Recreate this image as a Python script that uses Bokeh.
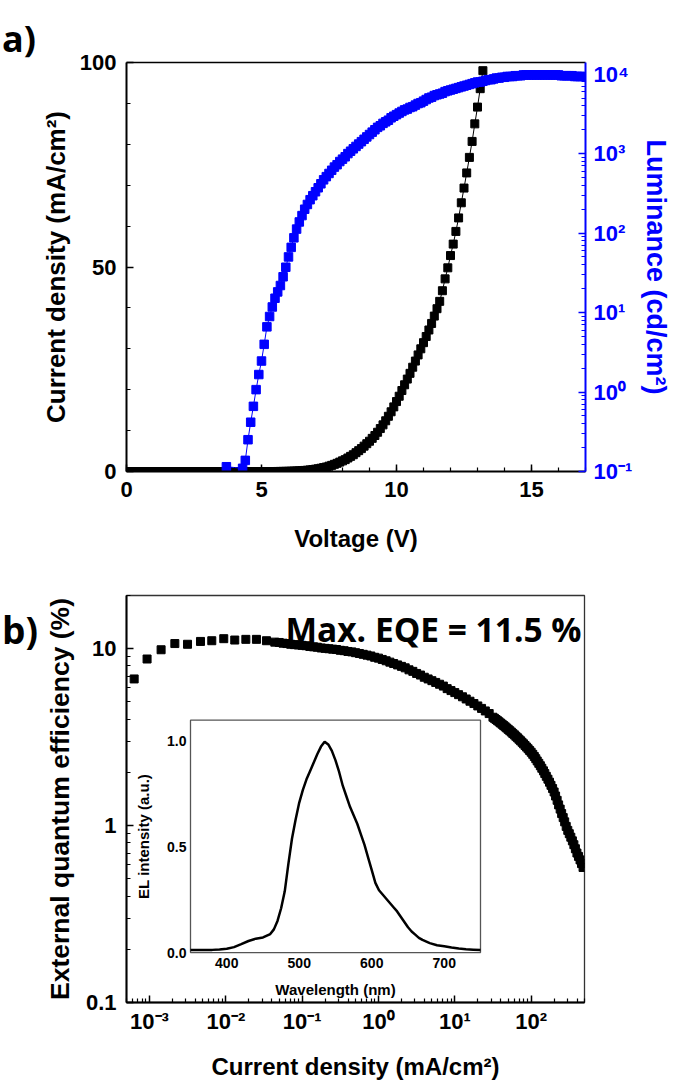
import numpy as np
from bokeh.plotting import figure
from bokeh.layouts import column, row
from bokeh.models import (Range1d, LogScale, LinearScale, LogAxis, LinearAxis,
                          FixedTicker, CustomJSTickFormatter, Label, Div)
from bokeh.core.properties import value
from bokeh.embed import file_html
from bokeh.resources import INLINE

AX_FONT = "Liberation Sans"
BIG_FONT = "Open Sans"
BLUE = "#0000ff"

# ---------------- panel a) data ----------------
# voltage sweep, 0.1 V steps (as read from the marker spacing)
voltage = np.round(np.arange(0.0, 13.25, 0.1), 1)
current_density = [
    0, 0, 0, 0, 0, 0, 0, 0, 0, 0,
    0, 0, 0, 0, 0, 0, 0, 0, 0, 0,
    0, 0, 0, 0, 0, 0, 0, 0, 0, 0,
    0, 0, 0, 0, 0, 0, 0, 0, 0, 0,
    0, 0, 0, 0, 0, 0, 0, 0, 0, 0,
    0, 0, 0, 0, 0, 0, 0.01, 0.02, 0.03, 0.04,
    0.06, 0.08, 0.10, 0.13, 0.17, 0.21, 0.26, 0.32, 0.39, 0.47,
    0.57, 0.68, 0.80, 0.95, 1.10, 1.30, 1.50, 1.75, 2.00, 2.30,
    2.6, 2.9, 3.3, 3.7, 4.1, 4.6, 5.1, 5.6, 6.2, 6.8,
    7.4, 8.1, 8.8, 9.6, 10.5, 11.4, 12.4, 13.5, 14.6, 15.8,
    17.1, 18.4, 19.8, 21.2, 22.6, 24.0, 25.5, 27.0, 28.5, 30.0,
    31.5, 33.0, 34.6, 36.2, 38.0, 39.8, 41.6, 44.2, 47.1, 49.8,
    52.8, 55.6, 58.7, 62.0, 65.7, 69.3, 73.0, 76.8, 80.7, 85.0,
    89.1, 93.6, 98.0,
]

lum_voltage = np.concatenate([[3.7], np.round(np.arange(4.3, 16.95, 0.1), 1)])
# log10 of luminance
lum_log10 = [
    -0.94,
    -0.96, -0.86, -0.60, -0.38, -0.18, 0.03, 0.22, 0.39, 0.60, 0.82,
    0.95, 1.07, 1.18, 1.26, 1.34, 1.45, 1.57, 1.70, 1.82, 1.94,
    2.05, 2.14, 2.22, 2.30, 2.36, 2.42, 2.47, 2.52, 2.57, 2.62,
    2.67, 2.71, 2.75, 2.79, 2.83, 2.86, 2.90, 2.93, 2.96, 3.00,
    3.03, 3.06, 3.09, 3.12, 3.15, 3.18, 3.21, 3.24, 3.27, 3.30,
    3.33, 3.35, 3.38, 3.40, 3.42, 3.45, 3.47, 3.49, 3.51, 3.53,
    3.55, 3.56, 3.58, 3.59, 3.61, 3.63, 3.64, 3.66, 3.68, 3.70,
    3.71, 3.73, 3.74, 3.75, 3.76, 3.78, 3.79, 3.80, 3.81, 3.82,
    3.83, 3.84, 3.85, 3.86, 3.87, 3.88, 3.89, 3.90, 3.90, 3.91,
    3.92, 3.93, 3.93, 3.94, 3.95, 3.95, 3.96, 3.96, 3.97, 3.97,
    3.97, 3.98, 3.98, 3.98, 3.99, 3.99, 3.99, 3.99, 3.99, 3.99,
    3.99, 3.99, 3.99, 3.99, 3.99, 3.99, 3.99, 3.99, 3.98, 3.98,
    3.98, 3.98, 3.98, 3.97, 3.97, 3.97, 3.97,
]
luminance = 10 ** np.array(lum_log10)

v_ticks = [0, 5, 10, 15]
v_minor = list(range(0, 18))
j_ticks = [0, 50, 100]
j_minor = [10, 20, 30, 40, 60, 70, 80, 90]
lum_ticks = [0.1, 1, 10, 100, 1000, 10000]
lum_minor = [m * d for d in [0.1, 1, 10, 100, 1000] for m in range(2, 10)]

# ---------------- panel b) data ----------------
eqe_j = [
    6.3e-4, 9.3e-4, 1.42e-3, 2.15e-3, 3.15e-3, 4.66e-3, 6.55e-3, 9.4e-3,
    0.0131, 0.0183, 0.0252, 0.0341, 0.0438,
    0.0501, 0.0562, 0.0631, 0.0708, 0.0794, 0.0891, 0.100, 0.112, 0.126, 0.141,
    0.158, 0.178, 0.200, 0.224, 0.251, 0.282, 0.316, 0.355, 0.398, 0.447,
    0.501, 0.562, 0.631, 0.708, 0.794, 0.891, 1.00, 1.12, 1.26, 1.41,
    1.58, 1.78, 2.00, 2.24, 2.51, 2.82, 3.16, 3.55, 3.98, 4.47,
    5.01, 5.62, 6.31, 7.08, 7.94, 8.91, 10.0, 11.2, 12.6, 14.1,
    15.8, 17.8, 20.0, 22.4, 25.1, 28.2,
    31.6, 33.1, 34.7, 36.3, 38.0, 39.8, 41.7, 43.7, 45.7, 47.9,
    50.1, 52.5, 55.0, 57.5, 60.3, 63.1, 66.1, 69.2, 72.4, 75.9,
    79.4, 83.2, 87.1, 91.2, 95.5, 100, 105, 110, 115, 120,
    126, 132, 138, 145, 151, 158, 166, 174, 182, 191,
    200, 209, 219, 229, 240, 251, 263, 275, 288, 302,
    316, 331, 347, 363, 380, 398, 417, 437, 457, 479,
]
eqe_pct = [
    6.75, 8.75, 9.87, 10.7, 10.6, 11.0, 11.1, 11.4,
    11.2, 11.3, 11.3, 11.1, 10.9,
    10.85, 10.75, 10.7, 10.6, 10.55, 10.5, 10.45, 10.4, 10.3, 10.25,
    10.2, 10.1, 10.05, 10.0, 9.95, 9.9, 9.8, 9.75, 9.65, 9.6,
    9.5, 9.4, 9.3, 9.2, 9.1, 8.95, 8.85, 8.7, 8.55, 8.4,
    8.25, 8.1, 7.95, 7.8, 7.6, 7.45, 7.25, 7.1, 6.9, 6.75,
    6.6, 6.45, 6.3, 6.15, 5.95, 5.8, 5.65, 5.5, 5.35, 5.2,
    5.05, 4.9, 4.75, 4.6, 4.45, 4.3,
    4.10, 4.04, 3.98, 3.92, 3.86, 3.80, 3.74, 3.68, 3.62, 3.56,
    3.50, 3.44, 3.38, 3.32, 3.26, 3.20, 3.14, 3.08, 3.02, 2.96,
    2.90, 2.84, 2.78, 2.72, 2.66, 2.60, 2.53, 2.46, 2.39, 2.32,
    2.25, 2.18, 2.11, 2.04, 1.97, 1.90, 1.83, 1.76, 1.69, 1.62,
    1.55, 1.47, 1.39, 1.31, 1.24, 1.17, 1.11, 1.05, 0.99, 0.94,
    0.90, 0.86, 0.82, 0.78, 0.74, 0.70, 0.67, 0.64, 0.61, 0.58,
]

jb_ticks = [1e-3, 1e-2, 1e-1, 1, 10, 100]
jb_minor = [m * d for d in [1e-4, 1e-3, 1e-2, 1e-1, 1, 10, 100] for m in range(2, 10)]
eqe_ticks = [0.1, 1, 10]
eqe_minor = [m * d for d in [0.1, 1, 10] for m in range(2, 10)]

# inset: EL spectrum
wavelength = [350, 360, 370, 380, 390, 400, 410, 420, 430, 440, 450, 460, 465,
              470, 475, 480, 485, 490, 495, 500, 505, 510, 515, 520, 525, 530,
              535, 540, 545, 550, 555, 560, 565, 570, 575, 580, 585, 590, 595,
              600, 605, 610, 615, 620, 625, 630, 635, 640, 645, 650, 655, 660,
              665, 670, 680, 690, 700, 710, 720, 730, 740, 750]
el_intensity = [0.012, 0.012, 0.012, 0.013, 0.015, 0.018, 0.026, 0.040, 0.055,
                0.066, 0.072, 0.088, 0.11, 0.15, 0.21, 0.29, 0.42, 0.54, 0.63,
                0.71, 0.77, 0.82, 0.86, 0.90, 0.94, 0.975, 0.998, 0.985, 0.955,
                0.91, 0.855, 0.79, 0.74, 0.69, 0.65, 0.61, 0.56, 0.51, 0.45,
                0.39, 0.33, 0.295, 0.275, 0.255, 0.235, 0.215, 0.195, 0.17,
                0.145, 0.12, 0.10, 0.085, 0.07, 0.06, 0.045, 0.035, 0.030,
                0.024, 0.019, 0.016, 0.014, 0.012]
wl_range = (350, 750)
el_range = (0.0, 1.1)
wl_ticks = [400, 500, 600, 700]
wl_tick_labels = ["400", "500", "600", "700"]
el_ticks = [0.0, 0.5, 1.0]
el_tick_labels = ["0.0", "0.5", "1.0"]

SUP_JS = """
const sup = {"-": "\\u207b", "0": "\\u2070", "1": "\\u00b9", "2": "\\u00b2",
             "3": "\\u00b3", "4": "\\u2074", "5": "\\u2075", "6": "\\u2076",
             "7": "\\u2077", "8": "\\u2078", "9": "\\u2079"};
const e = Math.round(Math.log10(tick));
return "10" + String(e).split("").map(c => sup[c]).join("");
"""
PLAIN_JS = """
return tick >= 1 ? tick.toFixed(0) : tick.toFixed(1);
"""

# panel letters live in a narrow column left of each figure
LETTER_W = 34
TOTAL_W = 680
FRAME_LEFT = 126


def style_axis(ax, color="black", tick_size="22px", label_size="24px"):
    ax.axis_line_color = color
    ax.axis_line_width = 2
    ax.major_tick_line_color = color
    ax.minor_tick_line_color = color
    ax.major_tick_line_width = 1.5
    ax.minor_tick_line_width = 1.2
    ax.major_tick_in = 7
    ax.major_tick_out = 0
    ax.minor_tick_in = 4
    ax.minor_tick_out = 0
    ax.major_label_text_font = AX_FONT
    ax.major_label_text_font_style = "bold"
    ax.major_label_text_font_size = tick_size
    ax.major_label_text_color = color
    ax.axis_label_text_font = AX_FONT
    ax.axis_label_text_font_style = "bold"
    ax.axis_label_text_font_size = label_size
    ax.axis_label_text_color = color


def letter(text, height, pad_top, size):
    return Div(text=text, width=LETTER_W, height=height, margin=0,
               styles={"font-family": BIG_FONT, "font-weight": "bold",
                       "font-size": size, "line-height": "1", "color": "black",
                       "padding-top": f"{pad_top}px", "padding-left": "2px",
                       "box-sizing": "border-box", "overflow": "visible",
                       "white-space": "nowrap"})


# ---------------- figure a) ----------------
p1 = figure(width=TOTAL_W - LETTER_W, height=560, x_range=Range1d(0, 17),
            y_range=Range1d(0, 100), output_backend="svg", toolbar_location=None,
            min_border_left=FRAME_LEFT - LETTER_W,
            min_border_right=TOTAL_W - 585, min_border_top=62,
            min_border_bottom=89)
p1.grid.visible = False
p1.outline_line_color = None
p1.border_fill_color = None
p1.extra_y_ranges = {"lum": Range1d(0.1, 14000)}
p1.extra_y_scales = {"lum": LogScale()}

xa = p1.xaxis[0]
xa.ticker = FixedTicker(ticks=v_ticks, minor_ticks=v_minor)
xa.axis_label = "Voltage (V)"
style_axis(xa)
xa.major_label_standoff = 10
xa.axis_label_standoff = 25

ya = p1.yaxis[0]
ya.ticker = FixedTicker(ticks=j_ticks, minor_ticks=j_minor)
ya.axis_label = "Current density (mA/cm\u00b2)"
style_axis(ya, label_size="26px")
ya.major_label_standoff = 10
ya.axis_label_standoff = 6

rax = LogAxis(y_range_name="lum",
              ticker=FixedTicker(ticks=lum_ticks, minor_ticks=lum_minor),
              formatter=CustomJSTickFormatter(code=SUP_JS),
              axis_label="Luminance (cd/cm\u00b2)")
style_axis(rax, color=BLUE, label_size="27px")
rax.major_label_standoff = 8
rax.axis_label_standoff = 6
p1.add_layout(rax, "right")

top1 = LinearAxis(ticker=FixedTicker(ticks=[], minor_ticks=[]))
top1.axis_line_color = "black"
top1.axis_line_width = 1.3
p1.add_layout(top1, "above")

p1.line(voltage, current_density, line_color="black", line_width=1)
p1.scatter(voltage, current_density, marker="square", size=8, color="black")
p1.line(lum_voltage, luminance, line_color=BLUE, line_width=1, y_range_name="lum")
p1.scatter(lum_voltage, luminance, marker="square", size=8.5, color=BLUE,
           y_range_name="lum")

# ---------------- figure b) ----------------
p2 = figure(width=TOTAL_W - LETTER_W, height=522, x_axis_type="log", y_axis_type="log",
            x_range=Range1d(5e-4, 500), y_range=Range1d(0.1, 20),
            output_backend="svg", toolbar_location=None,
            min_border_left=FRAME_LEFT - LETTER_W,
            min_border_right=TOTAL_W - 584, min_border_top=35,
            min_border_bottom=79)
p2.grid.visible = False
p2.border_fill_color = None
p2.outline_line_color = "#333333"
p2.outline_line_width = 1.3

xb = p2.xaxis[0]
xb.ticker = FixedTicker(ticks=jb_ticks, minor_ticks=jb_minor)
xb.formatter = CustomJSTickFormatter(code=SUP_JS)
xb.axis_label = "Current density (mA/cm\u00b2)"
style_axis(xb)
xb.major_label_standoff = 6
xb.axis_label_standoff = 16

yb = p2.yaxis[0]
yb.ticker = FixedTicker(ticks=eqe_ticks, minor_ticks=eqe_minor)
yb.formatter = CustomJSTickFormatter(code=PLAIN_JS)
yb.axis_label = "External quantum efficiency (%)"
style_axis(yb, label_size="26.5px")
yb.major_label_standoff = 10
yb.axis_label_standoff = 8

p2.scatter(eqe_j, eqe_pct, marker="square", size=8, color="black")

p2.add_layout(Label(x=457, y=13.0, text="Max. EQE = 11.5 %", text_font=BIG_FONT,
                    text_font_style="bold", text_font_size="33.5px",
                    text_color="black", text_align="right",
                    text_baseline="alphabetic"))

# ---------------- inset (drawn in panel b on its own linear scales) ----------------
# panel-b frame spans x 126..584 px and y 595..1003 px; inset frame x 190..480, y 720..953
nm_per_px = (wl_range[1] - wl_range[0]) / (480 - 190)
u_per_px = (el_range[1] - el_range[0]) / (953 - 720)
p2.extra_x_ranges = {"wl": Range1d(wl_range[0] - (190 - 126) * nm_per_px,
                                   wl_range[1] + (584 - 480) * nm_per_px)}
p2.extra_x_scales = {"wl": LinearScale()}
p2.extra_y_ranges = {"el": Range1d(el_range[0] - (1003 - 953) * u_per_px,
                                   el_range[1] + (720 - 595) * u_per_px)}
p2.extra_y_scales = {"el": LinearScale()}

INSET = dict(x_range_name="wl", y_range_name="el")
p2.quad(left=wl_range[0], right=wl_range[1], bottom=el_range[0], top=el_range[1],
        fill_color="white", line_color="#555555", line_width=1.3, **INSET)
p2.line(wavelength, el_intensity, line_color="black", line_width=2.5, **INSET)

p2.text(x=wl_ticks, y=[el_range[0]] * len(wl_ticks), text=wl_tick_labels,
        text_font=value(AX_FONT), text_font_style="bold", text_font_size="14px",
        text_align="center", text_baseline="top", y_offset=5,
        text_color="black", **INSET)
p2.text(x=[wl_range[0]] * len(el_ticks), y=el_ticks, text=el_tick_labels,
        text_font=value(AX_FONT), text_font_style="bold", text_font_size="14px",
        text_align="right", text_baseline="middle", x_offset=-4,
        text_color="black", **INSET)
p2.text(x=[(wl_range[0] + wl_range[1]) / 2], y=[el_range[0]], text=["Wavelength (nm)"],
        text_font=value(AX_FONT), text_font_style="bold", text_font_size="15px",
        text_align="center", text_baseline="middle", y_offset=37,
        text_color="black", **INSET)
p2.text(x=[wl_range[0]], y=[(el_range[0] + el_range[1]) / 2],
        text=["EL intensity (a.u.)"],
        text_font=value(AX_FONT), text_font_style="bold", text_font_size="15px",
        text_align="center", text_baseline="middle", x_offset=-47, angle=np.pi / 2,
        text_color="black", **INSET)

div_a = letter("a)", 560, 21, "36px")
div_b = letter("b)", 522, 51, "37px")

layout = column(row(div_a, p1, spacing=0), row(div_b, p2, spacing=0), spacing=0)

open("out.html", "w").write(file_html(layout, INLINE))
